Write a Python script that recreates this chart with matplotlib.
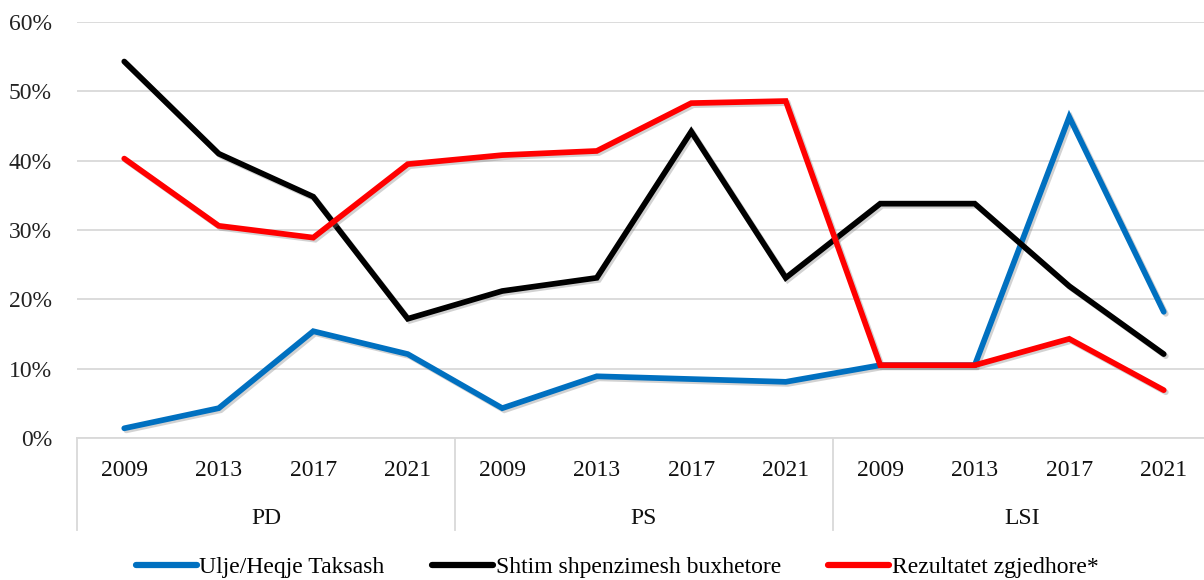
import matplotlib
matplotlib.use("Agg")
import matplotlib.pyplot as plt
import matplotlib.patheffects as pe
from matplotlib.ticker import FuncFormatter

years = ["2009", "2013", "2017", "2021"]
groups = ["PD", "PS", "LSI"]
ulje = [1.4, 4.3, 15.4, 12.1, 4.3, 8.9, 8.5, 8.1, 10.5, 10.5, 46.3, 18.2]
shtim = [54.3, 41.0, 34.8, 17.2, 21.2, 23.1, 44.2, 23.1, 33.8, 33.8, 21.9, 12.1]
rezultatet = [40.3, 30.6, 28.9, 39.5, 40.8, 41.4, 48.3, 48.6, 10.5, 10.5, 14.3, 6.9]
series_names = ["Ulje/Heqje Taksash", "Shtim shpenzimesh buxhetore", "Rezultatet zgjedhore*"]
colors = ["#0070C0", "#000000", "#FF0000"]

plt.rcParams['font.family'] = ['Liberation Serif', 'DejaVu Serif']

W, H = 1204, 580
fig = plt.figure(figsize=(W / 100, H / 100), dpi=100)
left_px, right_px, top_px, bottom_px = 77, 1211, 22, 438
ax = fig.add_axes([left_px / W, 1 - bottom_px / H, (right_px - left_px) / W, (bottom_px - top_px) / H])

n = len(groups) * len(years)
x = list(range(n))
effects = [pe.SimpleLineShadow(offset=(1.5, -1.5), alpha=0.35, shadow_color='gray'), pe.Normal()]
for vals, name, c in zip([ulje, shtim, rezultatet], series_names, colors):
    ax.plot(x, vals, color=c, lw=4.1, label=name, solid_capstyle='round',
            solid_joinstyle='miter', path_effects=effects, zorder=3)

ax.set_xlim(-0.5, n - 0.5)
ax.set_ylim(0, 60)
ax.set_yticks(range(0, 61, 10))
ax.yaxis.set_major_formatter(FuncFormatter(lambda v, p: f"{int(v)}%"))
ax.grid(axis='y', color='#D9D9D9', lw=1.3, zorder=0)
for s in ['top', 'right', 'left']:
    ax.spines[s].set_visible(False)
ax.spines['bottom'].set_color('#D9D9D9')
ax.spines['bottom'].set_linewidth(1.3)
ax.tick_params(axis='y', length=0, labelsize=17, pad=18, colors='#222222')
ax.set_xticks(x)
ax.set_xticklabels(years * len(groups))
ax.tick_params(axis='x', length=0, labelsize=17, pad=16, colors='#111111')

# group labels and separators
trans = ax.get_xaxis_transform()
sep_bottom = -(530 - bottom_px) / (bottom_px - top_px)
grp_y = -(519 - bottom_px) / (bottom_px - top_px)
for gi, g in enumerate(groups):
    center = gi * len(years) + (len(years) - 1) / 2
    ax.text(center, grp_y, g, transform=trans, ha='center', va='center', fontsize=17, color='#111111')
for b in range(len(groups)):
    xb = b * len(years) - 0.5
    ax.plot([xb, xb], [0, sep_bottom], transform=trans, color='#D9D9D9', lw=1.3, clip_on=False)

leg = fig.legend(loc='center', bbox_to_anchor=(617 / W, 1 - 567 / H), ncol=3, frameon=False,
                 fontsize=17, handlelength=2.6, handletextpad=0.1, columnspacing=2.0)
for l in leg.get_lines():
    l.set_linewidth(4.5)
    l.set_path_effects([])

fig.savefig("out.png", dpi=100)
